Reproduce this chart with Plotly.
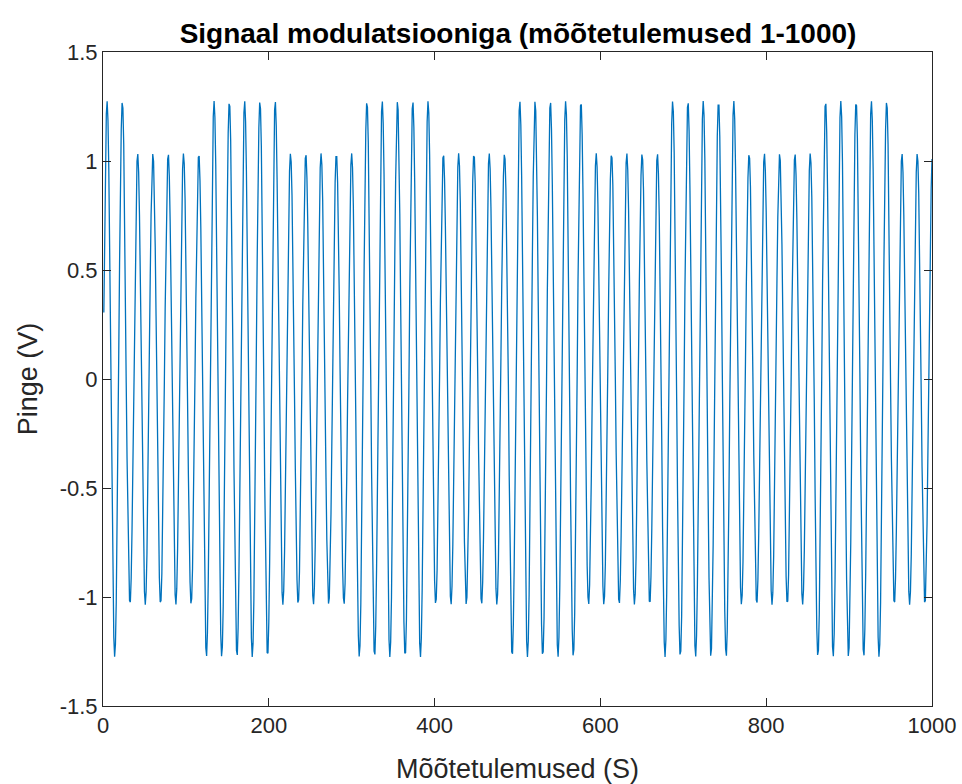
import numpy as np
import plotly.graph_objects as go

# Sample indices of the measurement record
sample_count = 1000

# Carrier: period in samples and position of the first crest
carrier_period = 18.44
first_crest = 4.9

# Envelope: sample index where each amplitude block ends, and the level of each block
block_ends = [28, 120, 212, 305, 397, 489, 581, 673, 766, 858, 950]
block_levels = [1.275, 1.035, 1.275, 1.035, 1.275, 1.035,
                1.275, 1.035, 1.275, 1.035, 1.275, 1.035]

# Axis ticks
x_ticks = [0, 200, 400, 600, 800, 1000]
y_ticks = [-1.5, -1, -0.5, 0, 0.5, 1, 1.5]
y_tick_text = ["-1.5", "-1", "-0.5", "0", "0.5", "1", "1.5"]

n = np.arange(1, sample_count + 1)
block_idx = np.searchsorted(block_ends, n, side="right")
envelope = np.asarray(block_levels)[block_idx]
signal = envelope * np.cos(2 * np.pi * (n - first_crest) / carrier_period)

font_family = "Liberation Sans, Arial, Helvetica, sans-serif"
axis_color = "#262626"

fig = go.Figure(
    go.Scatter(
        x=n,
        y=signal,
        mode="lines",
        line=dict(color="#0072BD", width=1.3),
        hoverinfo="skip",
    )
)

axis_common = dict(
    showgrid=False,
    zeroline=False,
    showline=True,
    linecolor=axis_color,
    linewidth=1,
    mirror="ticks",
    ticks="inside",
    ticklen=8,
    tickwidth=1,
    tickcolor=axis_color,
    automargin=False,
    tickfont=dict(family=font_family, size=22, color=axis_color),
)

fig.update_xaxes(
    range=[0, 1000],
    tickvals=x_ticks,
    ticktext=[str(v) for v in x_ticks],
    title=dict(text="Mõõtetulemused (S)",
               font=dict(family=font_family, size=27, color=axis_color),
               standoff=22),
    **axis_common,
)
fig.update_yaxes(
    range=[-1.5, 1.5],
    tickvals=y_ticks,
    ticktext=y_tick_text,
    title=dict(text="Pinge (V)",
               font=dict(family=font_family, size=27, color=axis_color),
               standoff=14),
    **axis_common,
)

fig.update_layout(
    width=962,
    height=784,
    autosize=False,
    margin=dict(l=103, r=30, t=52, b=78, pad=0),
    paper_bgcolor="white",
    plot_bgcolor="white",
    showlegend=False,
    title=dict(
        text="<b>Signaal modulatsiooniga (mõõtetulemused 1-1000)</b>",
        font=dict(family=font_family, size=28, color="#000000"),
        x=0.5385,
        xanchor="center",
        y=0.958,
        yanchor="middle",
    ),
)

fig.write_html("out.html")
